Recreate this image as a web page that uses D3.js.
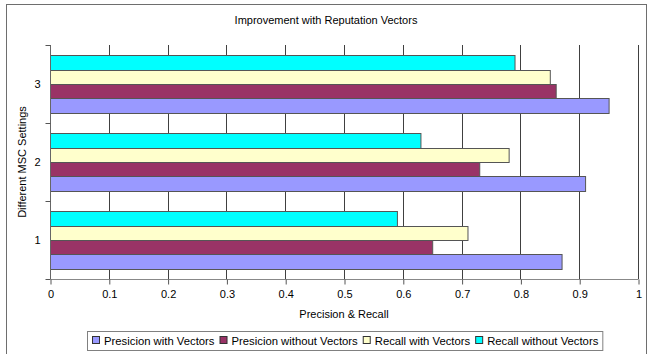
<!DOCTYPE html>
<html>
<head>
<meta charset="utf-8">
<script src="https://cdn.jsdelivr.net/npm/d3@7"></script>
<style>
  html, body { margin: 0; padding: 0; background: #fff; }
  svg { display: block; }
  text { font-family: "Liberation Sans", Arial, sans-serif; fill: #000; }
</style>
</head>
<body>
<svg id="chart" width="648" height="354"></svg>
<script>
// Settings (categories) and the four measured series
const categories = ["1", "2", "3"];
const seriesNames = ["Presicion with Vectors", "Presicion without Vectors", "Recall with Vectors", "Recall without Vectors"];
const precisionWith = [0.87, 0.91, 0.95];
const precisionWithout = [0.65, 0.73, 0.86];
const recallWith = [0.71, 0.78, 0.85];
const recallWithout = [0.59, 0.63, 0.79];
const xTicks = [0, 0.1, 0.2, 0.3, 0.4, 0.5, 0.6, 0.7, 0.8, 0.9, 1];
const colors = ["#9999FF", "#993366", "#FFFFCC", "#00FFFF"];

const seriesValues = [precisionWith, precisionWithout, recallWith, recallWithout];

const svg = d3.select("#chart");
const W = 648, H = 354;
const plot = { left: 50, right: 638, top: 45, bottom: 279 };

// outer chart frame
svg.append("rect")
  .attr("x", 6.5).attr("y", 4.5)
  .attr("width", W - 8).attr("height", H)
  .attr("fill", "#fff").attr("stroke", "#6e6e6e").attr("stroke-width", 1);

// title
svg.append("text")
  .attr("x", 326).attr("y", 24)
  .attr("text-anchor", "middle")
  .style("font-size", "11px")
  .text("Improvement with Reputation Vectors");

const x = d3.scaleLinear().domain([0, 1]).range([plot.left, plot.right]);
// category 1 at the bottom, 3 at the top
const y = d3.scaleBand().domain(categories.slice().reverse()).range([plot.top, plot.bottom]).paddingInner(0).paddingOuter(0);
// series order within a band: top = Recall without, bottom = Presicion with
const inner = d3.scaleBand().domain([3, 2, 1, 0]).range([0, y.bandwidth()]).paddingOuter(0.72).paddingInner(0);

// vertical gridlines
svg.append("g")
  .selectAll("line")
  .data(xTicks.slice(1))
  .join("line")
  .attr("x1", d => Math.round(x(d)) + 0.5).attr("x2", d => Math.round(x(d)) + 0.5)
  .attr("y1", plot.top).attr("y2", plot.bottom)
  .attr("stroke", "#404040").attr("stroke-width", 1);

// bars
const groups = svg.append("g")
  .selectAll("g")
  .data(categories)
  .join("g")
  .attr("transform", d => `translate(0,${y(d)})`);

groups.selectAll("rect")
  .data((d, i) => seriesValues.map((vals, s) => ({ s, v: vals[i] })))
  .join("rect")
  .attr("x", x(0) + 0.5)
  .attr("y", d => Math.round(inner(d.s)) + 0.5)
  .attr("width", d => x(d.v) - x(0))
  .attr("height", d => Math.round(inner(d.s) + inner.bandwidth()) - Math.round(inner(d.s)))
  .attr("fill", d => colors[d.s])
  .attr("stroke", "#555")
  .attr("stroke-width", 1);

// x axis
const xAxis = d3.axisBottom(x).tickValues(xTicks).tickSize(5).tickPadding(6)
  .tickFormat(d => d === 0 ? "0" : d === 1 ? "1" : d3.format(".1f")(d));
const gx = svg.append("g")
  .attr("transform", `translate(0.5,${plot.bottom + 0.5})`)
  .call(xAxis);
gx.select(".domain").attr("stroke", "#888").attr("d", `M${plot.left},0H${plot.right}`);
gx.selectAll(".tick line").attr("stroke", "#555");
gx.selectAll(".tick text").style("font-size", "11px").style("font-family", "Liberation Sans, Arial, sans-serif");

// y axis with ticks between categories
const gy = svg.append("g").attr("transform", `translate(${plot.left + 0.5},0)`);
gy.append("line")
  .attr("x1", 0).attr("x2", 0)
  .attr("y1", plot.top).attr("y2", plot.bottom)
  .attr("stroke", "#666");
const boundaries = categories.map(c => y(c)).concat([plot.bottom]);
gy.selectAll("line.tk")
  .data(boundaries)
  .join("line")
  .attr("class", "tk")
  .attr("x1", -5).attr("x2", 0)
  .attr("y1", d => Math.round(d) + 0.5).attr("y2", d => Math.round(d) + 0.5)
  .attr("stroke", "#555");
gy.selectAll("text")
  .data(categories)
  .join("text")
  .attr("x", -10)
  .attr("y", d => y(d) + y.bandwidth() / 2)
  .attr("dy", "0.35em")
  .attr("text-anchor", "end")
  .style("font-size", "11px")
  .text(d => d);

// axis titles
svg.append("text")
  .attr("x", (plot.left + plot.right) / 2).attr("y", 318)
  .attr("text-anchor", "middle")
  .style("font-size", "11px")
  .text("Precision & Recall");

svg.append("text")
  .attr("transform", `translate(26,${(plot.top + plot.bottom) / 2}) rotate(-90)`)
  .attr("text-anchor", "middle")
  .style("font-size", "11px")
  .text("Different MSC Settings");

// legend
const legend = svg.append("g");
const legendBox = legend.append("rect")
  .attr("fill", "#fff").attr("stroke", "#808080").attr("stroke-width", 1);
let lx = 92;
const ly = 341;
seriesNames.forEach((name, i) => {
  legend.append("rect")
    .attr("x", lx + 0.5).attr("y", ly - 4.5)
    .attr("width", 7).attr("height", 7)
    .attr("fill", colors[i]).attr("stroke", "#333");
  const t = legend.append("text")
    .attr("x", lx + 12).attr("y", ly)
    .attr("dy", "0.35em")
    .style("font-size", "11.3px")
    .text(name);
  lx += 12 + t.node().getComputedTextLength() + 5;
});
legendBox
  .attr("x", 87.5).attr("y", 331.5)
  .attr("width", lx - 87 - 1).attr("height", 19);
</script>
</body>
</html>
